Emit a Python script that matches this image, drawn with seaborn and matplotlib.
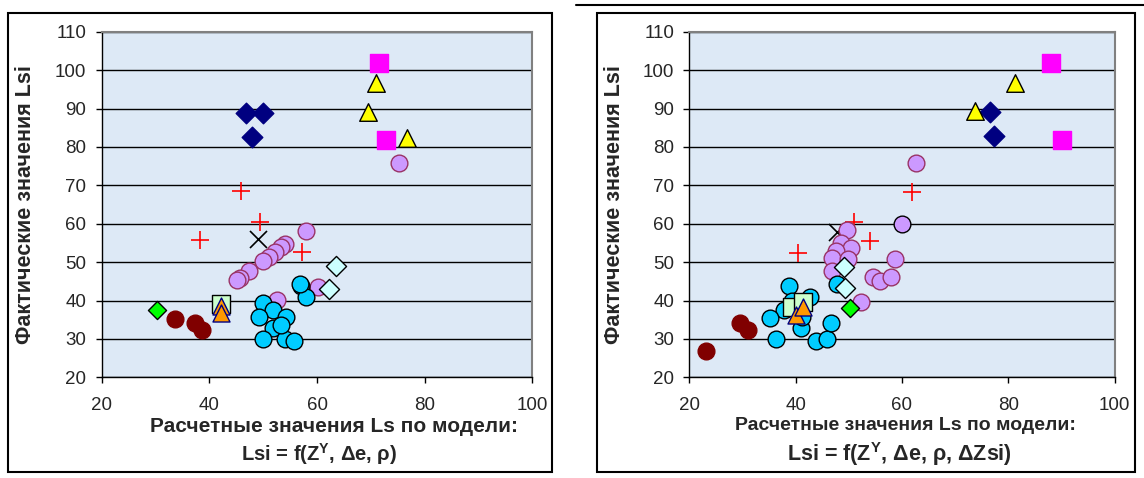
import matplotlib
matplotlib.use("Agg")
import matplotlib.pyplot as plt
import pandas as pd
import seaborn as sns
from matplotlib.patches import Rectangle
from matplotlib.lines import Line2D


# ---- left chart: Lsi = f(Z^Y, de, rho) ----
l_plus_x = [45.9, 49.4, 38.2, 57.2]
l_plus_y = [68.6, 60.4, 55.8, 52.6]
l_cross_x = [49.1]
l_cross_y = [56.0]
l_violet_x = [75.3, 58.0, 54.1, 53.4, 52.2, 51.0, 49.9, 47.4, 45.7, 45.1, 60.1, 52.5]
l_violet_y = [75.9, 58.2, 54.7, 53.9, 52.6, 51.3, 50.4, 47.8, 45.8, 45.3, 43.6, 40.1]
l_cyan_x = [50.0, 51.9, 49.3, 54.2, 51.8, 50.0, 54.0, 55.8, 57.0, 57.9, 56.8, 53.4]
l_cyan_y = [39.4, 37.5, 35.6, 35.6, 32.8, 29.9, 29.9, 29.5, 43.8, 40.8, 44.2, 33.5]
l_ltcyan_x = [63.5, 62.2]
l_ltcyan_y = [49.0, 43.1]
l_green_x = [30.2]
l_green_y = [37.5]
l_ltgreen_x = [42.2]
l_ltgreen_y = [39.1]
l_orange_x = [42.2, 42.2]
l_orange_y = [38.6, 36.8]
l_darkred_x = [33.6, 37.3, 38.6]
l_darkred_y = [35.1, 34.1, 32.3]
l_navy_x = [46.9, 49.9, 48.0]
l_navy_y = [88.9, 88.9, 82.7]
l_yellow_x = [71.0, 69.4, 76.8]
l_yellow_y = [96.6, 89.2, 82.2]
l_magenta_x = [71.6, 72.9]
l_magenta_y = [101.8, 81.8]

# ---- right chart: Lsi = f(Z^Y, de, rho, dZsi) ----
r_plus_x = [61.8, 50.9, 53.9, 40.5]
r_plus_y = [68.3, 60.5, 55.6, 52.3]
r_cross_x = [47.7]
r_cross_y = [57.9]
r_violet_x = [62.7, 49.6, 48.6, 50.5, 47.5, 46.8, 49.9, 46.8, 58.7, 54.5, 55.9, 57.9, 52.2]
r_violet_y = [75.7, 58.4, 54.9, 53.6, 52.9, 51.0, 50.7, 47.8, 50.7, 46.0, 45.2, 46.0, 39.7]
r_violet2_x = [60.0]
r_violet2_y = [60.0]
r_cyan_x = [38.8, 39.3, 42.7, 37.8, 35.1, 41.1, 36.3, 43.8, 45.9, 46.7, 47.8, 41.2]
r_cyan_y = [43.8, 39.9, 41.0, 37.5, 35.5, 32.8, 30.0, 29.5, 30.0, 34.1, 44.3, 35.8]
r_ltcyan_x = [49.3, 49.0]
r_ltcyan_y = [43.2, 48.8]
r_green_x = [50.2]
r_green_y = [38.0]
r_ltgreen_x = [39.4, 41.4]
r_ltgreen_y = [38.4, 39.7]
r_orange_x = [40.1, 41.4]
r_orange_y = [36.2, 38.2]
r_darkred_x = [29.5, 31.1, 23.1]
r_darkred_y = [34.1, 32.2, 26.9]
r_navy_x = [76.5, 77.3]
r_navy_y = [89.2, 82.8]
r_yellow_x = [81.2, 73.7]
r_yellow_y = [96.6, 89.4]
r_magenta_x = [88.0, 90.1]
r_magenta_y = [101.8, 81.8]

x_ticks = [20, 40, 60, 80, 100]
y_ticks = [20, 30, 40, 50, 60, 70, 80, 90, 100, 110]

# marker styles: marker, face, edge, size
styles = {
    "plus": ("+", "#ff0000", None, 150),
    "cross": ("x", "#000000", None, 150),
    "violet": ("o", "#cc99ff", "#993366", 145),
    "violet2": ("o", "#cc99ff", "#000000", 145),
    "cyan": ("o", "#00ccff", "#000000", 145),
    "ltcyan": ("D", "#ccffff", "#000000", 105),
    "green": ("D", "#00ff00", "#000000", 85),
    "ltgreen": ("s", "#ccffcc", "#000000", 150),
    "orange": ("^", "#ff9900", "#000080", 150),
    "darkred": ("o", "#800000", "#800000", 145),
    "navy": ("D", "#000080", "#000080", 110),
    "yellow": ("^", "#ffff00", "#000000", 160),
    "magenta": ("s", "#ff00ff", "#ff00ff", 150),
}
order = list(styles)


def build(prefix):
    rows = []
    g = globals()
    for name in order:
        xs = g.get(f"{prefix}_{name}_x", [])
        ys = g.get(f"{prefix}_{name}_y", [])
        rows += [(name, x, y) for x, y in zip(xs, ys)]
    return pd.DataFrame(rows, columns=["series", "x", "y"])


sns.set_style("white")
plt.rcParams["font.family"] = ["Liberation Sans", "DejaVu Sans"]
plt.rcParams["mathtext.fontset"] = "custom"
plt.rcParams["mathtext.rm"] = "Liberation Sans:bold"
plt.rcParams["mathtext.bf"] = "Liberation Sans:bold"

W, H = 1144, 478
fig = plt.figure(figsize=(W / 100, H / 100), dpi=100)


def draw(df, left_px, right_px):
    ax = fig.add_axes([left_px / W, 1 - 377.3 / H, (right_px - left_px) / W, 345.6 / H])
    ax.set_facecolor("#dde9f6")
    for i, name in enumerate(order):
        sub = df[df.series == name]
        if sub.empty:
            continue
        mk, fc, ec, s = styles[name]
        kw = dict(data=sub, x="x", y="y", ax=ax, marker=mk, s=s, legend=False, zorder=3 + i)
        if ec is None:
            sns.scatterplot(color=fc, linewidth=1.2, **kw)
        else:
            sns.scatterplot(color=fc, edgecolor=ec, linewidth=1.0, **kw)
    ax.set_xlim(20, 100)
    ax.set_ylim(20, 110)
    ax.set_xticks(x_ticks)
    ax.set_yticks(y_ticks)
    ax.yaxis.grid(True, color="black", linewidth=1)
    ax.xaxis.grid(False)
    ax.set_axisbelow(True)
    ax.set_xlabel("")
    ax.set_ylabel("")
    for side in ["left", "bottom"]:
        ax.spines[side].set_color("black")
        ax.spines[side].set_linewidth(1.0)
    for side in ["top", "right"]:
        ax.spines[side].set_color("#808080")
        ax.spines[side].set_linewidth(1.5)
    ax.tick_params(axis="y", direction="out", length=4, width=1, color="black",
                   labelsize=13.5, pad=7, left=True)
    ax.tick_params(axis="x", direction="out", length=4, width=1, color="black",
                   labelsize=13.5, pad=10, bottom=True)
    return ax


draw(build("l"), 101.7, 532.3)
draw(build("r"), 689.3, 1114.7)

bold = dict(fontweight="bold", ha="center", va="center")
fig.text(26 / W, 1 - 205 / H, "Фактические значения Lsi", rotation=90, fontsize=15.5, **bold)
fig.text(615 / W, 1 - 205 / H, "Фактические значения Lsi", rotation=90, fontsize=15.5, **bold)
fig.text(334 / W, 1 - 426 / H, "Расчетные значения Ls по модели:", fontsize=15, **bold)
fig.text(905 / W, 1 - 425 / H, "Расчетные значения Ls по модели:", fontsize=14, **bold)
fig.text(319 / W, 1 - 454 / H, r"Lsi = f(Z$^{\mathbf{Y}}$, Δe, ρ)", fontsize=14.5, **bold)
fig.text(899 / W, 1 - 454 / H, r"Lsi = f(Z$^{\mathbf{Y}}$, Δe, ρ, ΔZsi)", fontsize=15.5, **bold)

# chart frames
fig.patches.append(Rectangle((8 / W, 1 - 472 / H), 544 / W, 459 / H, transform=fig.transFigure,
                             fill=False, edgecolor="black", linewidth=1.5))
fig.patches.append(Rectangle((597 / W, 1 - 472 / H), 538 / W, 459 / H, transform=fig.transFigure,
                             fill=False, edgecolor="black", linewidth=1.5))
fig.lines.append(Line2D([576 / W, 1], [1 - 5 / H, 1 - 5 / H], transform=fig.transFigure,
                        color="black", linewidth=1.5))

fig.savefig("out.png", dpi=100)
